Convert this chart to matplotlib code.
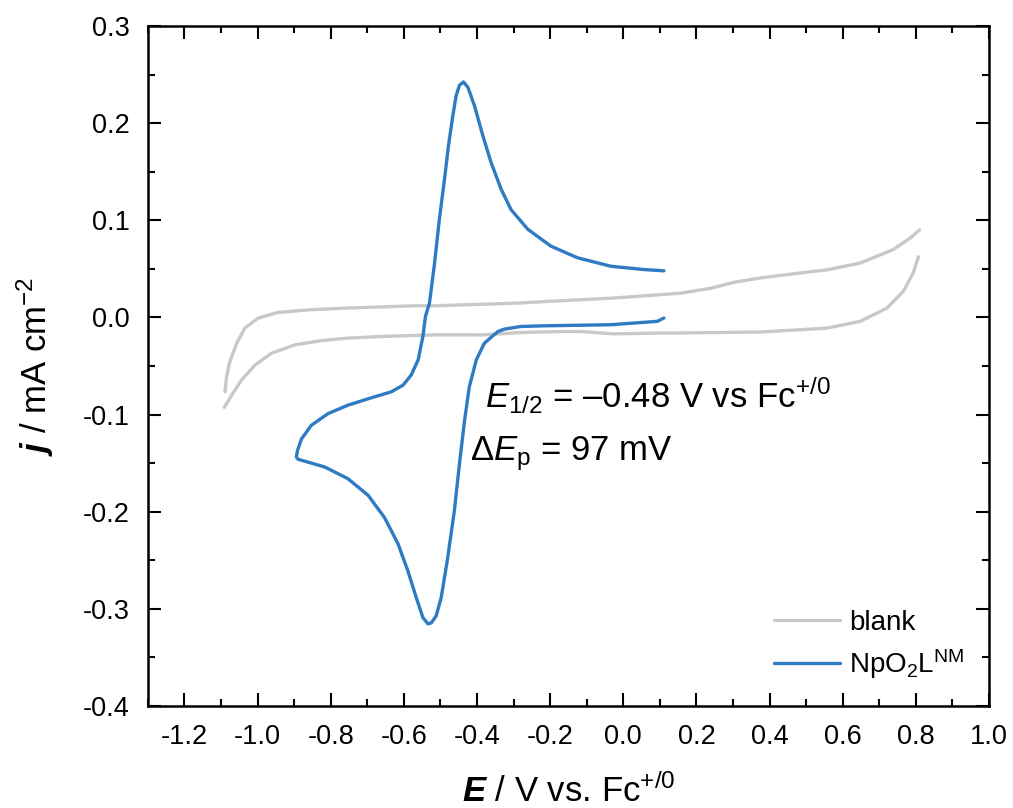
import numpy as np
import matplotlib
matplotlib.use("Agg")
import matplotlib.pyplot as plt
from matplotlib.ticker import MultipleLocator, FormatStrFormatter

plt.rcParams["font.family"] = ["Liberation Sans", "DejaVu Sans"]
plt.rcParams["mathtext.fontset"] = "custom"
plt.rcParams["mathtext.rm"] = "Liberation Sans"
plt.rcParams["mathtext.it"] = "Liberation Sans:italic"
plt.rcParams["mathtext.bf"] = "Liberation Sans:bold"
plt.rcParams["mathtext.bfit"] = "Liberation Sans:bold:italic"
plt.rcParams["axes.unicode_minus"] = False

# Blank electrolyte: forward (upper) and return (lower) branches
blank_up_E = [-1.089, -1.085, -1.076, -1.057, -1.035, -0.998, -0.944, -0.853, -0.753,
              -0.571, -0.516, -0.280, -0.207, -0.025, 0.102, 0.157, 0.239, 0.300,
              0.375, 0.466, 0.557, 0.648, 0.739, 0.785, 0.810]
blank_up_j = [-0.0765, -0.061, -0.0455, -0.0265, -0.011, -0.0006, 0.0052, 0.008, 0.0097,
              0.012, 0.012, 0.0149, 0.0165, 0.020, 0.0235, 0.025, 0.030, 0.036,
              0.0407, 0.045, 0.049, 0.056, 0.070, 0.082, 0.090]
blank_dn_E = [0.807, 0.793, 0.766, 0.721, 0.648, 0.557, 0.375, 0.157, 0.102, -0.025,
              -0.116, -0.170, -0.280, -0.389, -0.516, -0.662, -0.753, -0.825, -0.898,
              -0.962, -1.007, -1.044, -1.071, -1.091]
blank_dn_j = [0.0625, 0.046, 0.027, 0.0097, -0.004, -0.011, -0.015, -0.016, -0.016, -0.0169,
              -0.0145, -0.0145, -0.0155, -0.018, -0.0179, -0.0196, -0.0213, -0.0238, -0.0282,
              -0.0368, -0.049, -0.0644, -0.080, -0.0927]

# NpO2L^NM cyclic voltammogram (cathodic sweep, then anodic return)
np_E = [0.111, 0.093, -0.034, -0.216, -0.280, -0.325, -0.343, -0.380, -0.402, -0.421,
        -0.434, -0.448, -0.462, -0.480, -0.498, -0.512, -0.525, -0.534, -0.548, -0.566,
        -0.589, -0.616, -0.653, -0.698, -0.753, -0.816, -0.889, -0.894, -0.891, -0.880,
        -0.853, -0.807, -0.753, -0.689, -0.634, -0.602, -0.580, -0.561, -0.548, -0.541,
        -0.530, -0.516, -0.503, -0.489, -0.478, -0.466, -0.457, -0.448, -0.437, -0.425,
        -0.407, -0.384, -0.362, -0.334, -0.307, -0.261, -0.198, -0.125, -0.034, 0.057,
        0.111]
np_j = [-0.0006, -0.004, -0.0075, -0.0086, -0.0093, -0.012, -0.0145, -0.0265, -0.0437, -0.0713,
        -0.1058, -0.1506, -0.199, -0.247, -0.2885, -0.3074, -0.3144, -0.3154, -0.309, -0.2885,
        -0.261, -0.233, -0.206, -0.183, -0.166, -0.154, -0.146, -0.1437, -0.137, -0.125,
        -0.111, -0.0989, -0.0903, -0.0827, -0.0765, -0.0696, -0.0593, -0.0437, -0.0196, 0.001,
        0.0149, 0.0563, 0.101, 0.142, 0.177, 0.208, 0.2285, 0.239, 0.2424, 0.237,
        0.218, 0.187, 0.160, 0.132, 0.111, 0.0907, 0.0734, 0.0614, 0.0527, 0.0493,
        0.048]

fig = plt.figure(figsize=(10.13, 8.08), dpi=100)
ax = fig.add_axes([0.146, 0.1262, 0.8303, 0.8416])

blank_E = np.concatenate([blank_up_E, [np.nan], blank_dn_E])
blank_j = np.concatenate([blank_up_j, [np.nan], blank_dn_j])
ax.plot(blank_E, blank_j, color="#c8c8c8", lw=2.4, label="blank",
        solid_capstyle="round", solid_joinstyle="round")
ax.plot(np_E, np_j, color="#2f7bc3", lw=2.4, label=r"NpO$_2$L$^{\mathrm{NM}}$",
        solid_capstyle="round", solid_joinstyle="round")

ax.set_xlim(-1.3, 1.0)
ax.set_ylim(-0.4, 0.3)
ax.xaxis.set_major_locator(MultipleLocator(0.2))
ax.xaxis.set_minor_locator(MultipleLocator(0.1))
ax.yaxis.set_major_locator(MultipleLocator(0.1))
ax.yaxis.set_minor_locator(MultipleLocator(0.05))
ax.xaxis.set_major_formatter(FormatStrFormatter("%.1f"))
ax.yaxis.set_major_formatter(FormatStrFormatter("%.1f"))

ax.tick_params(which="both", direction="in", top=True, right=True, width=1.5,
               labelsize=19.5, colors="black")
ax.tick_params(which="major", length=9.5, pad=13)
ax.tick_params(which="minor", length=5)
for s in ax.spines.values():
    s.set_linewidth(1.8)

ax.set_xlabel(r"$\mathbfit{E}$ / V vs. Fc$^{+/0}$", fontsize=25, labelpad=17)
ax.set_ylabel(r"$\mathbfit{j}$ / mA cm$^{-2}$", fontsize=25, labelpad=19)

ax.text(-0.378, -0.0934, r"$E_{1/2}$ = –0.48 V vs Fc$^{+/0}$", fontsize=25,
        ha="left", va="baseline")
ax.text(-0.42, -0.147, r"$\Delta E_{\mathrm{p}}$ = 97 mV", fontsize=25,
        ha="left", va="baseline")

ax.legend(loc="lower right", frameon=False, fontsize=20, handlelength=2.4,
          handletextpad=0.3, labelspacing=0.4, borderaxespad=0.5)

fig.savefig("out.png", dpi=100)
